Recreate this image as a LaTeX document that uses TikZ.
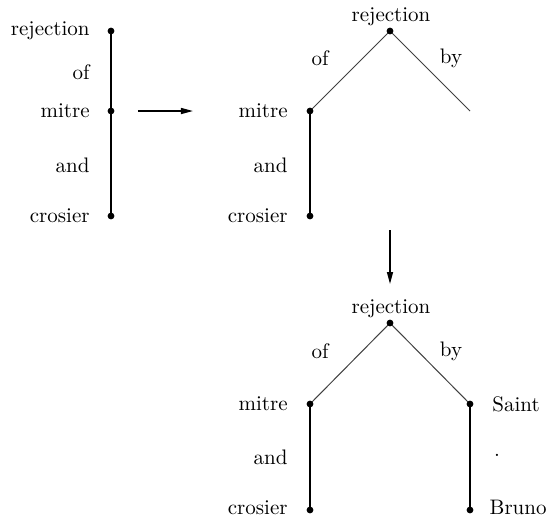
\documentclass[tikz,border=0pt]{standalone}
\usetikzlibrary{arrows.meta}
\begin{document}
\begin{tikzpicture}[x=0.5pt,y=-0.5pt,
  dotpt/.style={circle,fill=black,inner sep=0pt,minimum size=3.4pt},
  lbl/.style={inner sep=0pt,font=\fontsize{10.5}{12}\selectfont},
  lblL/.style={lbl,anchor=east},
  lblR/.style={lbl,anchor=west},
  thinedge/.style={line width=0.5pt,black!75},
  thickedgeA/.style={line width=0.85pt},
  thickedgeB/.style={line width=1.3pt},
  stepArrow/.style={line width=0.7pt,-{Triangle[length=6pt,width=3pt]}}]
\useasboundingbox (0,0) rectangle (548,516);
% ---- left diagram
\coordinate (a1) at (111,31);
\coordinate (a2) at (111,111);
\coordinate (a3) at (111,216);
\draw[thickedgeA] (a1) -- (a3);
\node[dotpt] (d1) at (a1) {};
\node[dotpt] (d2) at (a2) {};
\node[dotpt] (d3) at (a3) {};
\node[lblL] (t1) at (90,31) {rejection};
\node[lblL] (t2) at (90,72) {of};
\node[lblL] (t3) at (90,111) {mitre};
\node[lblL] (t4) at (90,165) {and};
\node[lblL] (t5) at (90,216) {crosier};
% arrow right
\coordinate (r1) at (138,111);
\coordinate (r2) at (193,111);
\draw[stepArrow] (r1) -- (r2);
% ---- middle diagram
\coordinate (b0) at (390,31);
\coordinate (b1) at (310,111);
\coordinate (b2) at (310,216);
\coordinate (bR) at (470,111);
\draw[thinedge] (b0) -- (b1);
\draw[thinedge] (b0) -- (bR);
\draw[thickedgeB] (b1) -- (b2);
\node[dotpt] (e0) at (b0) {};
\node[dotpt] (e1) at (b1) {};
\node[dotpt] (e2) at (b2) {};
\node[lbl,anchor=base] (u0) at (391,21) {rejection};
\node[lbl] (u1) at (320,58) {of};
\node[lbl] (u2) at (451,58) {by};
\node[lblL] (u3) at (288,111) {mitre};
\node[lblL] (u4) at (288,165) {and};
\node[lblL] (u5) at (288,216) {crosier};
% arrow down
\coordinate (s1) at (390,230);
\coordinate (s2) at (390,284);
\draw[stepArrow] (s1) -- (s2);
% ---- bottom diagram
\coordinate (c0) at (390,323);
\coordinate (c1) at (310,404);
\coordinate (c2) at (310,510);
\coordinate (c3) at (470,404);
\coordinate (c4) at (470,510);
\draw[thinedge] (c0) -- (c1);
\draw[thinedge] (c0) -- (c3);
\draw[thickedgeB] (c1) -- (c2);
\draw[thickedgeB] (c3) -- (c4);
\node[dotpt] (f0) at (c0) {};
\node[dotpt] (f1) at (c1) {};
\node[dotpt] (f2) at (c2) {};
\node[dotpt] (f3) at (c3) {};
\node[dotpt] (f4) at (c4) {};
\node[lbl,anchor=base] (v0) at (391,313) {rejection};
\node[lbl] (v1) at (320,351) {of};
\node[lbl] (v2) at (451,351) {by};
\node[lblL] (v3) at (288,404) {mitre};
\node[lblL] (v4) at (288,457) {and};
\node[lbl,anchor=base east] (v5) at (288,514) {crosier};
\node[lblR] (v6) at (492,404) {Saint};
\node[lbl] (v7) at (497,455) {.};
\node[lbl,anchor=base east] (v8) at (547,514) {Bruno};
\end{tikzpicture}
\end{document}
